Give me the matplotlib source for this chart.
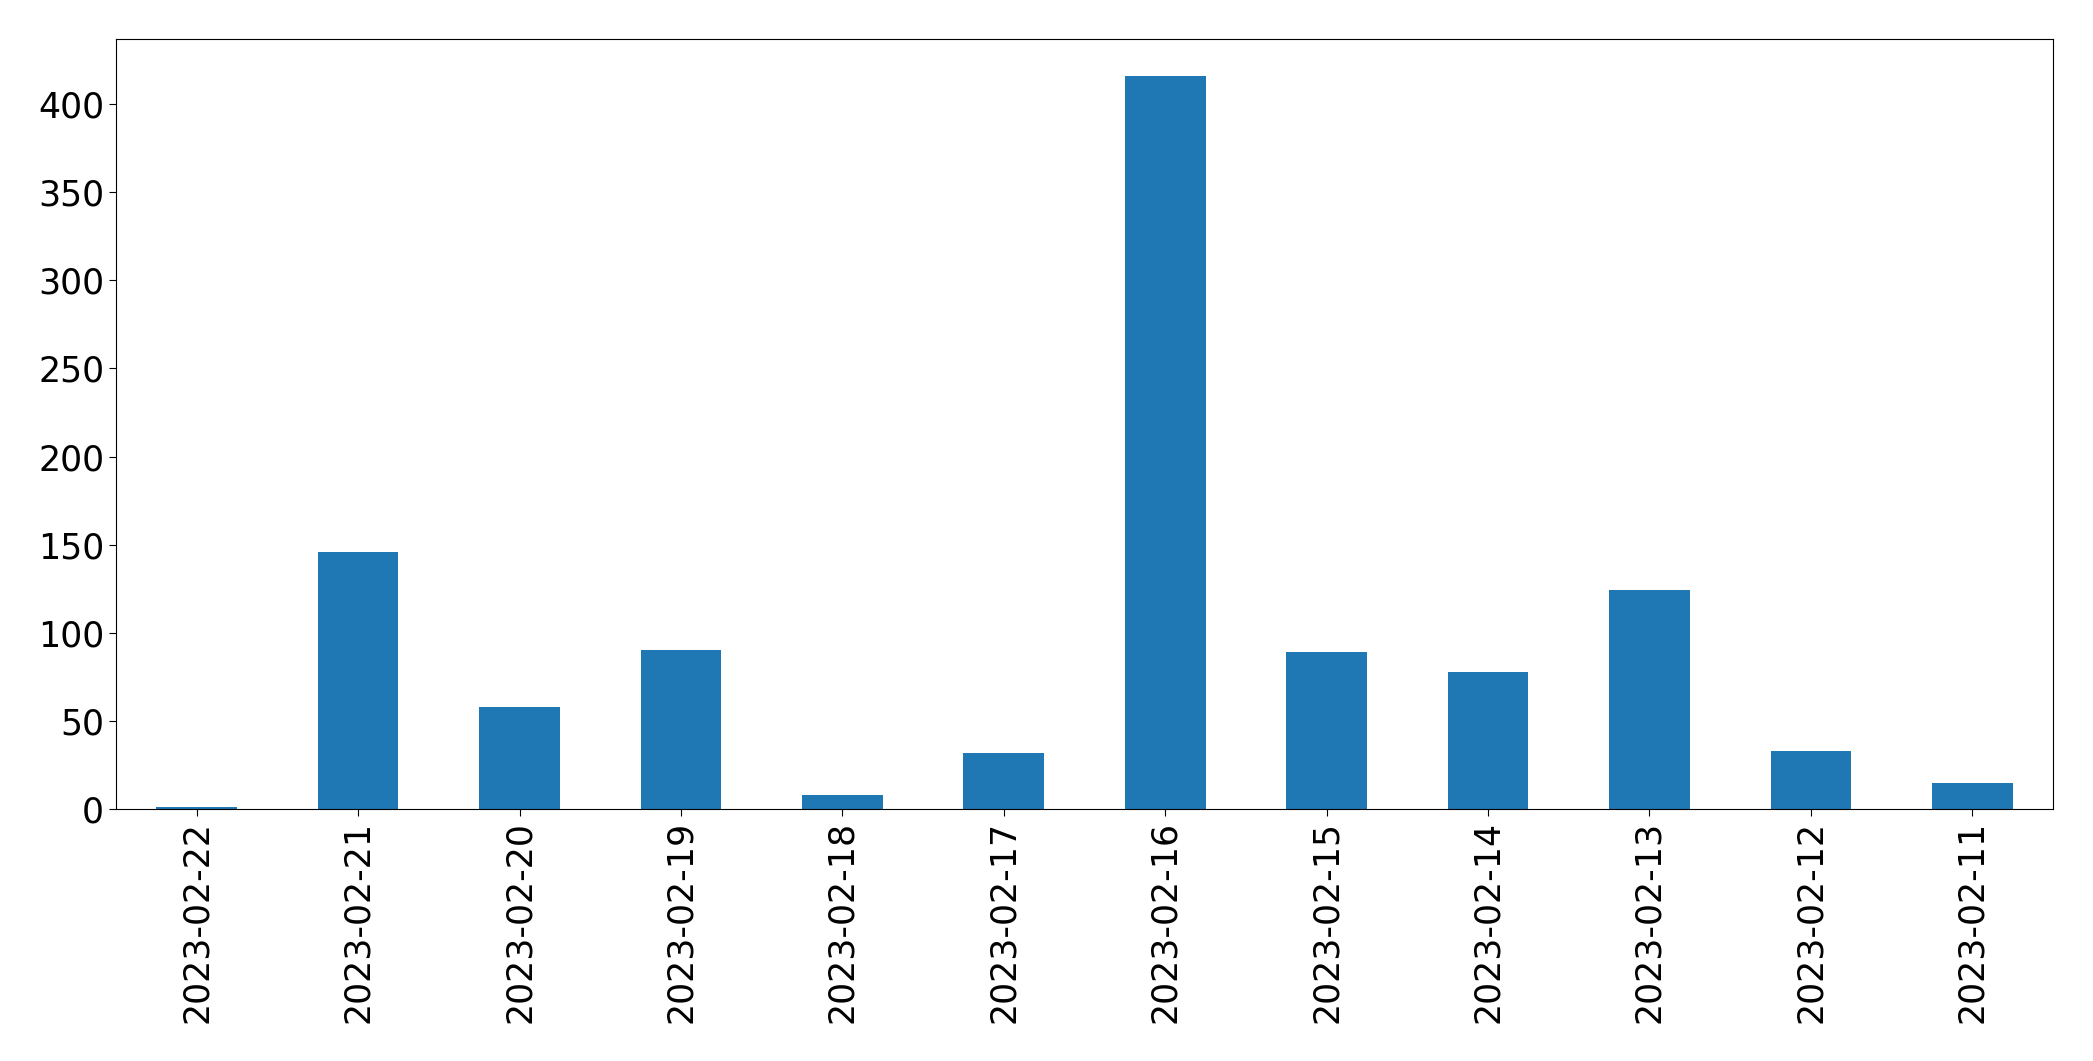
import matplotlib
matplotlib.use("Agg")
import matplotlib.pyplot as plt

dates = ["2023-02-22", "2023-02-21", "2023-02-20", "2023-02-19", "2023-02-18",
         "2023-02-17", "2023-02-16", "2023-02-15", "2023-02-14", "2023-02-13",
         "2023-02-12", "2023-02-11"]
counts = [1, 146, 58, 90, 8, 32, 416, 89, 78, 124, 33, 15]

fig = plt.figure(figsize=(20.93, 10.61), dpi=100)
ax = fig.add_axes([0.0554, 0.2375, 0.9255, 0.7255])
x = list(range(len(dates)))
ax.bar(x, counts, width=0.5, color="#1f77b4")
ax.set_xlim(-0.5, len(dates) - 0.5)
ax.set_xticks(x)
ax.set_xticklabels(dates, rotation=90)
ax.tick_params(axis="both", labelsize=25, length=5)
fig.savefig("out.png", dpi=100)
